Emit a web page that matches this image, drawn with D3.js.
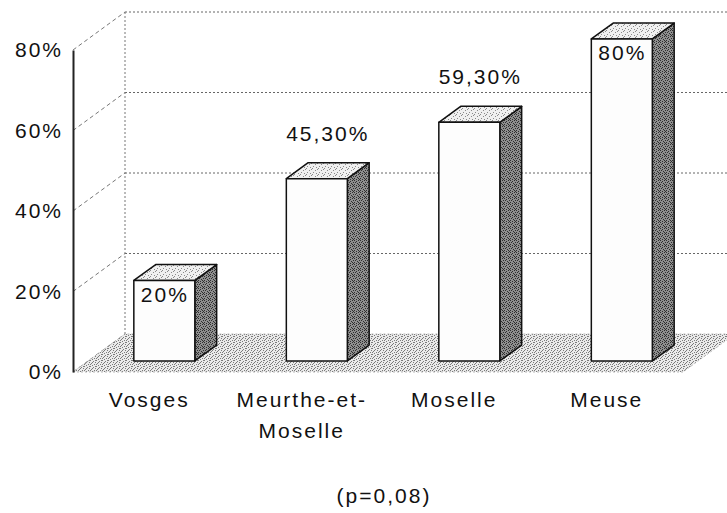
<!DOCTYPE html>
<html>
<head>
<meta charset="utf-8">
<script src="https://cdn.jsdelivr.net/npm/d3@7"></script>
<style>
  body { margin: 0; background: #fff; }
  text { font-family: "Liberation Sans", Arial, sans-serif; fill: #111; letter-spacing: 2px; }
</style>
</head>
<body>
<div id="chart-area"></div>
<script>

// Data
var categories = ["Vosges", "Meurthe-et-Moselle", "Moselle", "Meuse"];
var catLabels = [["Vosges"], ["Meurthe-et-", "Moselle"], ["Moselle"], ["Meuse"]];
var values = [20, 45.3, 59.3, 80];
var valueLabels = ["20%", "45,30%", "59,30%", "80%"];
var labelInside = [true, false, false, true];
var yTicks = [0, 20, 40, 60, 80];
var caption = "(p=0,08)";

var width = 727, height = 513;

// front plane of the 3D box
var left = 73, right = 683;
// depth offset of the back wall
var DX = 52, DY = -38;
// bars sit in the middle of the depth
var zFront = 0.29, zBack = 0.71;

var svg = d3.select("#chart-area")
    .append("svg")
        .attr("width", width)
        .attr("height", height);

var x = d3.scaleBand()
    .domain(categories)
    .range([left, right])
    .padding(0);

var y = d3.scaleLinear()
    .domain([0, 80])
    .range([372, 50]);

// project (front x, value, depth) into screen coordinates
function proj(px, v, z) {
    return [px + z * DX, y(v) + z * DY];
}

// Patterns for the speckled fills
var defs = svg.append("defs");

function speckle(id, bg, fg, dots) {
    var p = defs.append("pattern")
        .attr("id", id)
        .attr("width", 6).attr("height", 6)
        .attr("patternUnits", "userSpaceOnUse");
    p.append("rect").attr("width", 6).attr("height", 6).attr("fill", bg);
    dots.forEach(function (d) {
        p.append("rect").attr("x", d[0]).attr("y", d[1])
            .attr("width", 1).attr("height", 1).attr("fill", fg);
    });
}
speckle("floorPat", "#eaeaea", "#7a7a7a", [[0,0],[3,1],[1,3],[4,4],[5,2],[2,5],[0,4],[2,2],[5,0]]);
speckle("topPat", "#f0f0f0", "#8a8a8a", [[0,0],[3,2],[1,4],[4,5],[5,1]]);
speckle("sidePat", "#8f8f8f", "#2e2e2e", [[0,0],[2,1],[4,0],[1,2],[3,3],[5,2],[0,4],[2,5],[4,4],[5,5]]);

// Left wall diagonals (dashed)
svg.append("g").selectAll("line")
    .data(yTicks)
    .enter().append("line")
        .attr("x1", left).attr("y1", function (d) { return y(d); })
        .attr("x2", left + DX).attr("y2", function (d) { return y(d) + DY; })
        .attr("stroke", "#777").attr("stroke-width", 1)
        .attr("stroke-dasharray", "4,3");

// Back wall gridlines (dotted)
svg.append("g").selectAll("line")
    .data(yTicks.filter(function (d) { return d > 0; }))
    .enter().append("line")
        .attr("x1", left + DX).attr("y1", function (d) { return y(d) + DY; })
        .attr("x2", right + DX).attr("y2", function (d) { return y(d) + DY; })
        .attr("stroke", "#666").attr("stroke-width", 1)
        .attr("stroke-dasharray", "2,2");

// Back wall left edge
svg.append("line")
    .attr("x1", left + DX).attr("y1", y(80) + DY)
    .attr("x2", left + DX).attr("y2", y(0) + DY)
    .attr("stroke", "#777").attr("stroke-width", 1)
    .attr("stroke-dasharray", "2,2");

// Floor
var floorPts = [proj(left, 0, 0), proj(right, 0, 0), proj(right, 0, 1), proj(left, 0, 1)];
svg.append("polygon")
    .attr("points", floorPts.map(function (p) { return p.join(","); }).join(" "))
    .attr("fill", "url(#floorPat)")
    .attr("stroke", "#aaa").attr("stroke-width", 0.8)
    .attr("stroke-dasharray", "2,2");

// Bars
var bars = svg.append("g").selectAll("g")
    .data(values)
    .enter().append("g");

function barX0(i) { return x(categories[i]) + x.bandwidth() * 0.3; }
function barX1(i) { return x(categories[i]) + x.bandwidth() * 0.7; }
function pts(list) { return list.map(function (p) { return p.join(","); }).join(" "); }

// side face
bars.append("polygon")
    .attr("points", function (d, i) {
        return pts([proj(barX1(i), 0, zFront), proj(barX1(i), 0, zBack),
                    proj(barX1(i), d, zBack), proj(barX1(i), d, zFront)]);
    })
    .attr("fill", "url(#sidePat)")
    .attr("stroke", "#111").attr("stroke-width", 1.5)
    .attr("stroke-linejoin", "round");

// top face
bars.append("polygon")
    .attr("points", function (d, i) {
        return pts([proj(barX0(i), d, zFront), proj(barX1(i), d, zFront),
                    proj(barX1(i), d, zBack), proj(barX0(i), d, zBack)]);
    })
    .attr("fill", "url(#topPat)")
    .attr("stroke", "#111").attr("stroke-width", 1.5)
    .attr("stroke-linejoin", "round");

// front face
bars.append("polygon")
    .attr("points", function (d, i) {
        return pts([proj(barX0(i), 0, zFront), proj(barX1(i), 0, zFront),
                    proj(barX1(i), d, zFront), proj(barX0(i), d, zFront)]);
    })
    .attr("fill", "#fdfdfd")
    .attr("stroke", "#111").attr("stroke-width", 1.5)
    .attr("stroke-linejoin", "round");

// Value labels
svg.append("g").selectAll("text")
    .data(values)
    .enter().append("text")
        .attr("x", function (d, i) {
            return proj(x(categories[i]) + x.bandwidth() / 2, d, labelInside[i] ? 0.3 : 0.5)[0];
        })
        .attr("y", function (d, i) {
            var top = proj(0, d, 0.5)[1];
            return labelInside[i] ? top + 29 : top - 30;
        })
        .attr("text-anchor", "middle")
        .attr("font-size", "21px")
        .text(function (d, i) { return valueLabels[i]; });

// Y Axis
var yAxisCall = d3.axisLeft(y)
    .tickValues(yTicks)
    .tickSize(0)
    .tickPadding(10)
    .tickFormat(function (d) { return d + "%"; });

var yAxisGroup = svg.append("g")
    .attr("class", "y axis")
    .attr("transform", "translate(" + left + ",0)")
    .call(yAxisCall);

yAxisGroup.select(".domain")
    .attr("stroke", "#222").attr("stroke-width", 2);
yAxisGroup.selectAll("text")
    .attr("font-size", "21px")
    .attr("font-family", "Liberation Sans, Arial, sans-serif")
    .attr("fill", "#111");

// Category labels on the front edge
var catGroup = svg.append("g").selectAll("text")
    .data(catLabels)
    .enter().append("text")
        .attr("text-anchor", "middle")
        .attr("font-size", "21px")
        .attr("y", 407);

catGroup.selectAll("tspan")
    .data(function (d, i) { return d.map(function (s) { return {s: s, i: i}; }); })
    .enter().append("tspan")
        .attr("x", function (d) { return x(categories[d.i]) + x.bandwidth() / 2; })
        .attr("dy", function (d, j) { return j === 0 ? 0 : 31; })
        .text(function (d) { return d.s; });

// Caption
svg.append("text")
    .attr("x", 384)
    .attr("y", 503)
    .attr("text-anchor", "middle")
    .attr("font-size", "21px")
    .text(caption);

</script>
</body>
</html>
